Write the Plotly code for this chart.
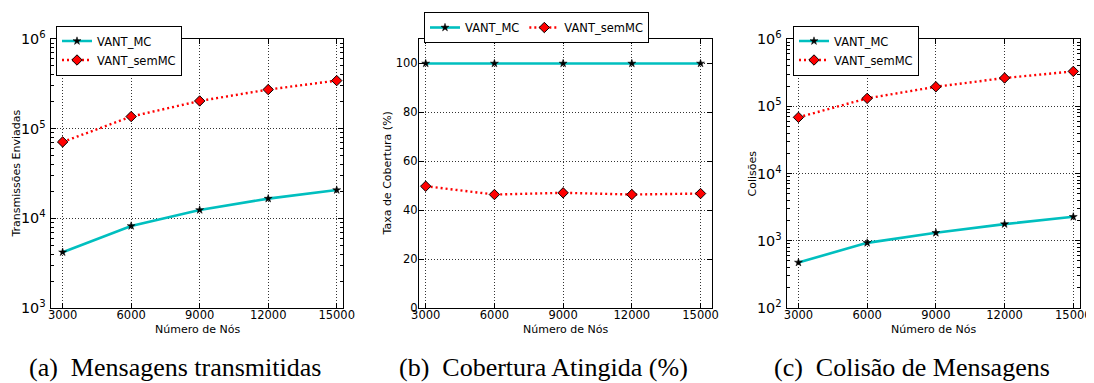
import plotly.graph_objects as go

nodes = [3000, 6000, 9000, 12000, 15000]
x_ticks = [3000, 6000, 9000, 12000, 15000]
x_tick_labels = ["3000", "6000", "9000", "12000", "15000"]

tx_mc = [4190, 8220, 12400, 16600, 20700]
tx_sem = [71100, 136500, 203700, 273000, 343600]

cov_mc = [100, 100, 100, 100, 100]
cov_sem = [49.8, 46.4, 47.1, 46.4, 46.8]
cov_ticks = [0, 20, 40, 60, 80, 100]

col_mc = [475, 931, 1312, 1766, 2270]
col_sem = [68400, 131000, 195000, 263000, 330000]

series_names = ["VANT_MC", "VANT_semMC"]
y_titles = ["Transmissões Enviadas", "Taxa de Cobertura (%)", "Colisões"]
x_title = "Número de Nós"
captions = ["(a)  Mensagens transmitidas", "(b)  Cobertura Atingida (%)", "(c)  Colisão de Mensagens"]

W, H = 1094, 383
OFF = 8  # page body margin of the browser
CYAN = "rgb(0,191,191)"
RED = "#ff0000"
SANS = "DejaVu Sans"
SERIF = "Liberation Serif"

# plot-area pixel boxes in the screenshot (left, right, top, bottom)
boxes = [(51, 343, 39, 308), (419, 712, 39, 308), (787, 1080, 39, 308)]

def px_x(v):
    return (v - OFF) / W

def px_y(v):
    return 1 - (v - OFF) / H

fig = go.Figure()

data = [(tx_mc, tx_sem), (cov_mc, cov_sem), (col_mc, col_sem)]
legend_ids = ["legend", "legend2", "legend3"]
for i, (mc, sem) in enumerate(data):
    ax = "" if i == 0 else str(i + 1)
    fig.add_trace(go.Scatter(
        x=nodes, y=mc, name=series_names[0], mode="lines+markers",
        line=dict(color=CYAN, width=2.6),
        marker=dict(symbol="star", size=6, color="black", line=dict(color="black", width=0.5)),
        xaxis="x" + ax, yaxis="y" + ax, legend=legend_ids[i],
    ))
    fig.add_trace(go.Scatter(
        x=nodes, y=sem, name=series_names[1], mode="lines+markers",
        line=dict(color=RED, width=2.4, dash="2px,3px"),
        marker=dict(symbol="diamond", size=8, color=RED, line=dict(color="black", width=1)),
        xaxis="x" + ax, yaxis="y" + ax, legend=legend_ids[i],
    ))

tickfont = dict(family=SANS, size=11.5, color="black")
common_axis = dict(
    showline=True, linecolor="black", linewidth=1.2, mirror="ticks",
    ticks="inside", ticklen=5, tickcolor="black", tickwidth=1,
    showgrid=True, gridcolor="#333", griddash="1px,2px", gridwidth=0.8,
    zeroline=False, tickfont=tickfont, automargin=False,
)

layout = dict(
    width=W, height=H, margin=dict(l=0, r=0, t=0, b=0, autoexpand=False),
    paper_bgcolor="white", plot_bgcolor="white",
    font=dict(family=SANS, size=11, color="black"),
)

yconf = [
    dict(type="log", range=[3, 6], dtick=1, exponentformat="power", ticklabelstandoff=2,
         minor=dict(ticks="inside", ticklen=3, tickcolor="black", showgrid=False)),
    dict(type="linear", range=[0, 110], tickvals=cov_ticks, ticklabelstandoff=-2),
    dict(type="log", range=[2, 6], dtick=1, exponentformat="power", ticklabelstandoff=2,
         minor=dict(ticks="inside", ticklen=3, tickcolor="black", showgrid=False)),
]
xranges = [[2490, 15275], [2707, 15500], [2500, 15293]]

annotations = []
for i, (l, r, t, b) in enumerate(boxes):
    ax = "" if i == 0 else str(i + 1)
    xa = dict(common_axis, domain=[px_x(l), px_x(r)], range=xranges[i], tickvals=x_ticks,
              ticktext=x_tick_labels, anchor="y" + ax, ticklabelstandoff=-4)
    ya = dict(common_axis, domain=[px_y(b), px_y(t)], anchor="x" + ax, **yconf[i])
    layout["xaxis" + ax] = xa
    layout["yaxis" + ax] = ya
    annotations.append(dict(text=x_title, x=px_x((l + r) / 2), y=px_y(329.5), xref="paper", yref="paper",
                            xanchor="center", yanchor="middle", showarrow=False,
                            font=dict(family=SANS, size=11, color="black")))
    annotations.append(dict(text=captions[i], x=px_x([175, 543, 912][i]), y=px_y(367), xref="paper", yref="paper",
                            xanchor="center", yanchor="middle", showarrow=False,
                            font=dict(family=SERIF, size=26, color="black")))
    annotations.append(dict(text=y_titles[i], x=px_x([16, 387, 752][i]), y=px_y((t + b) / 2), xref="paper", yref="paper",
                            xanchor="center", yanchor="middle", showarrow=False, textangle=-90,
                            font=dict(family=SANS, size=11, color="black")))

layout["annotations"] = annotations

legfont = dict(family=SANS, size=11.5, color="black")
layout["legend"] = dict(x=px_x(56), y=px_y(25.5), xanchor="left", yanchor="top", bgcolor="white",
                        bordercolor="black", borderwidth=1, font=legfont, tracegroupgap=0)
layout["legend2"] = dict(x=px_x(424), y=px_y(12), xanchor="left", yanchor="top", bgcolor="white",
                         bordercolor="black", borderwidth=1, font=legfont, orientation="h")
layout["legend3"] = dict(x=px_x(793), y=px_y(25.5), xanchor="left", yanchor="top", bgcolor="white",
                         bordercolor="black", borderwidth=1, font=legfont, tracegroupgap=0)

fig.update_layout(**layout)
fig.write_html("out.html")
